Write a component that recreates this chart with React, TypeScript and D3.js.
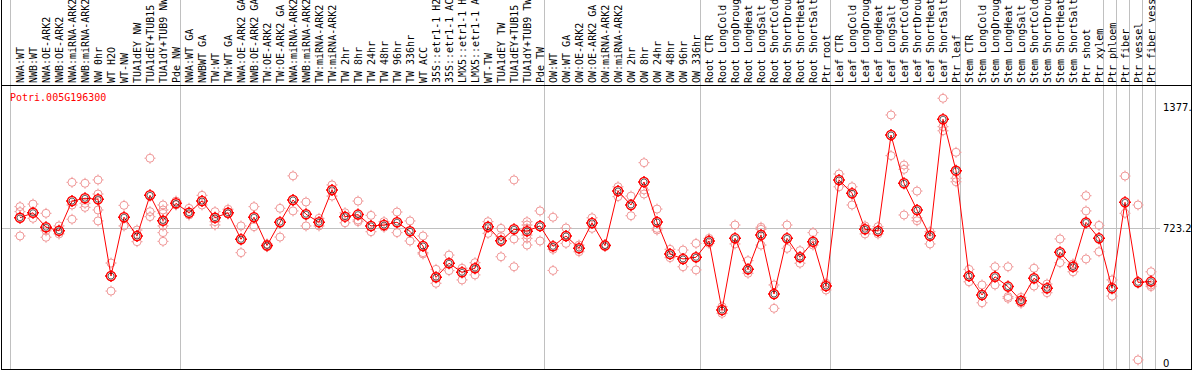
import React from "react";
import * as d3 from "d3";

const categories: string[] = [
  "NWA:WT", "NWB:WT", "NWA:OE-ARK2", "NWB:OE-ARK2", "NWA:miRNA-ARK2", "NWB:miRNA-ARK2", "NW 0hr", "WT H2O", "WT-NW", "TUA1dEY NW", "TUA1dEY+TUB15", "TUA1dY+TUB9 NW", "Pde NW",
  "NWA:WT GA", "NWBWT GA", "TW:WT", "TW:WT GA", "NWA:OE-ARK2 GA", "NWB:OE-ARK2 GA", "TW:OE-ARK2", "TW:OE-ARK2 GA", "NWA:miRNA-ARK2", "NWB:miRNA-ARK2", "TW:miRNA-ARK2", "TW:miRNA-ARK2",
  "TW 2hr", "TW 8hr", "TW 24hr", "TW 48hr", "TW 96hr", "TW 336hr", "WT ACC", "35S::etr1-1 H2", "35S::etr1-1 AC", "LMX5::etr1-1 H", "LMX5::etr1-1 A", "WT-TW", "TUA1dEY TW", "TUA1dEY+TUB15", "TUA1dY+TUB9 TW", "Pde TW",
  "OW:WT", "OW:WT GA", "OW:OE-ARK2", "OW:OE-ARK2 GA", "OW:miRNA-ARK2", "OW:miRNA-ARK2", "OW 2hr", "OW 8hr", "OW 24hr", "OW 48hr", "OW 96hr", "OW 336hr",
  "Root CTR", "Root LongCold", "Root LongDroug", "Root LongHeat", "Root LongSalt", "Root ShortCold", "Root ShortDrou", "Root ShortHeat", "Root ShortSalt", "Ptr root",
  "Leaf CTR", "Leaf LongCold", "Leaf LongDroug", "Leaf LongHeat", "Leaf LongSalt", "Leaf ShortCold", "Leaf ShortDrou", "Leaf ShortHeat", "Leaf ShortSalt", "Ptr leaf",
  "Stem CTR", "Stem LongCold", "Stem LongDroug", "Stem LongHeat", "Stem LongSalt", "Stem ShortCold", "Stem ShortDrou", "Stem ShortHeat", "Stem ShortSalt", "Ptr shoot", "Ptr xylem",
  "Ptr phloem", "Ptr fiber", "Ptr vessel", "Ptr fiber vess",
];

const means: number[] = [
  780, 807, 729, 710, 870, 885, 880, 466, 783, 682, 901, 764, 858,
  807, 870, 780, 807, 664, 783, 630, 756, 876, 799, 756, 930,
  786, 797, 736, 741, 756, 707, 628, 459, 535, 486, 508, 732, 656, 718, 708, 736,
  626, 682, 616, 752, 630, 924, 849, 973, 757, 585, 558, 567,
  655, 283, 669, 502, 687, 369, 669, 567, 651, 412,
  984, 912, 718, 709, 1226, 966, 822, 683, 1311, 1034,
  466, 364, 462, 409, 333, 454, 400, 594, 516, 755, 669,
  400, 863, 432, 436,
];

const replicates: number[][] = [
  [840, 813, 682], [854, 777], [804, 710, 675], [736, 693], [971, 849, 772], [966, 858, 836], [984, 908, 822, 763], [536, 385], [847, 736], [714, 651], [1101, 813, 786], [849, 822, 804, 736, 700, 653], [870, 849],
  [831, 795], [901, 849], [813, 759, 741], [826, 800], [736, 592], [840, 732], [639, 624], [831, 676], [1006, 817], [865, 736], [777, 736], [957, 897],
  [807, 753], [870, 768, 759], [793, 705], [759, 729], [811, 700], [763, 655], [682, 592, 585], [502, 427], [579, 495], [508, 445], [538, 472], [759, 696], [723, 678, 570], [984, 666, 516], [759, 741, 723, 687, 669, 633], [817, 655],
  [783, 610, 496], [725, 642], [633, 597], [780, 723], [636], [947, 894], [897, 791], [1077, 930, 908], [827, 723, 714], [610, 565], [606, 516], [642, 499],
  [669, 642], [301, 265], [741, 639], [549, 481], [729, 718, 633], [418, 292], [741, 615], [603, 535], [700, 633], [427, 391],
  [1016, 947], [947, 849], [736, 693], [732, 693], [1334, 1115], [1064, 1041, 795], [924, 780, 764], [705, 639], [1424, 1271, 1249], [1133, 993, 974],
  [502, 435], [418, 322], [516, 418], [516, 355, 346], [351, 319], [508, 412], [423, 376], [666, 538], [531, 489], [899, 817, 558], [739, 597],
  [445, 358], [1005, 804], [849, 14], [489, 418, 409],
];

const groupEnds: number[] = [12, 40, 52, 62, 72, 83, 84, 85, 86, 87];
const yTicks: number[] = [0, 723.2, 1377];
const yTickLabels: string[] = ["0", "723.2", "1377."];
const geneName = "Potri.005G196300";

const W = 1194;
const H = 370;

function Marker({ cx, cy, r, color, width }: { cx: number; cy: number; r: number; color: string; width: number }) {
  const t = 1.5;
  return (
    <g stroke={color} strokeWidth={width} fill="none">
      <circle cx={cx} cy={cy} r={r} />
      <line x1={cx} y1={cy - r} x2={cx} y2={cy - r - t} />
      <line x1={cx} y1={cy + r} x2={cx} y2={cy + r + t} />
      <line x1={cx - r} y1={cy} x2={cx - r - t} y2={cy} />
      <line x1={cx + r} y1={cy} x2={cx + r + t} y2={cy} />
    </g>
  );
}

export default function App() {
  const x = d3.scaleLinear().domain([0, categories.length - 1]).range([20, 1151]);
  const y = d3.scaleLinear().domain([0, 1377]).range([362.5, 107]);
  const line = d3
    .line<number>()
    .x((_, i) => x(i))
    .y((d) => y(d));

  const seps = [10, ...groupEnds.map((i) => x(i) + 4)];
  const mono = "'DejaVu Sans Mono', monospace";

  return (
    <svg
      width={W}
      height={H}
      style={{ position: "fixed", left: 0, top: 0, background: "#fff", display: "block" }}
      shapeRendering="crispEdges"
    >
      <rect x={0} y={0} width={W} height={H} fill="#fff" />
      {seps.map((sx, i) => (
        <line key={"s" + i} x1={Math.round(sx) + 0.5} x2={Math.round(sx) + 0.5} y1={0} y2={369} stroke="#c0c0c0" strokeWidth={1} />
      ))}
      <line x1={1} x2={1160} y1={Math.round(y(723.2)) + 0.5} y2={Math.round(y(723.2)) + 0.5} stroke="#c0c0c0" />
      <line x1={1.5} x2={1.5} y1={0} y2={370} stroke="#000" />
      <line x1={1191.5} x2={1191.5} y1={0} y2={370} stroke="#000" />
      <line x1={1} x2={1192} y1={85.5} y2={85.5} stroke="#000" />
      <line x1={1} x2={1192} y1={369.5} y2={369.5} stroke="#000" />
      {categories.map((c, i) => (
        <text
          key={"l" + i}
          transform={`translate(${x(i) + 3.5},83) rotate(-90)`}
          fontFamily={mono}
          fontSize={10}
          fill="#000"
        >
          {c}
        </text>
      ))}
      <text x={10} y={101} fontFamily={mono} fontSize={10} fill="#ff0000">
        {geneName}
      </text>
      {yTicks.map((t, i) => (
        <text key={"y" + i} x={1163} y={y(t) + 4} fontFamily="'DejaVu Sans', sans-serif" fontSize={10} fill="#000">
          {yTickLabels[i]}
        </text>
      ))}
      <g shapeRendering="auto">
        {replicates.map((reps, i) =>
          reps.map((v, j) => <Marker key={`r${i}-${j}`} cx={x(i)} cy={y(v)} r={4} color="#f09898" width={1} />)
        )}
        <path d={line(means) || ""} fill="none" stroke="#ff0000" strokeWidth={1} />
        {means.map((v, i) => (
          <g key={"m" + i}>
            <Marker cx={x(i)} cy={y(v)} r={4.5} color="#ff0000" width={1.5} />
            <circle cx={x(i)} cy={y(v)} r={3} fill="none" stroke="#000" strokeWidth={0.6} />
          </g>
        ))}
      </g>
    </svg>
  );
}
